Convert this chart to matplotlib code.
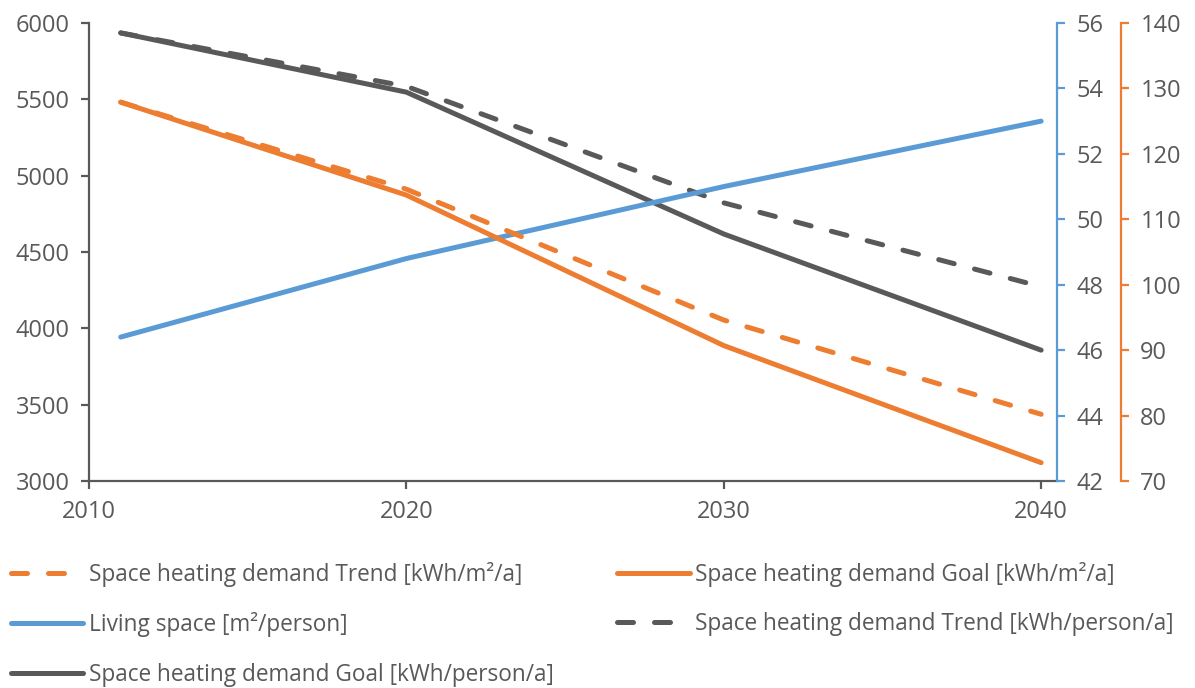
import matplotlib
matplotlib.use("Agg")
import matplotlib.pyplot as plt

plt.rcParams['font.family'] = ['Open Sans', 'DejaVu Sans']

years = [2011, 2020, 2030, 2040]
# kWh/person/a (left axis)
person_trend = [5935, 5585, 4822, 4273]
person_goal = [5935, 5547, 4618, 3857]
# m2/person (blue axis)
living_space = [46.4, 48.8, 51.0, 53.0]
# kWh/m2/a (orange axis)
m2_trend = [127.9, 114.6, 94.6, 80.2]
m2_goal = [127.9, 113.7, 90.7, 72.8]

grey = '#595959'
blue = '#5B9BD5'
orange = '#ED7D31'
fs = 17
lfs = 16.3
lw = 3.6
dash = (3.2, 4.2)

fig = plt.figure(figsize=(11.95, 6.88), dpi=100)
ax = fig.add_axes([89 / 1195, 1 - 481 / 688, (1057 - 89) / 1195, (481 - 23) / 688])
ax2 = ax.twinx()
ax3 = ax.twinx()

l_pt, = ax.plot(years, person_trend, color=grey, lw=lw, dashes=dash,
                dash_capstyle='round', solid_capstyle='round',
                label='Space heating demand Trend [kWh/person/a]')
l_pg, = ax.plot(years, person_goal, color=grey, lw=lw, solid_capstyle='round',
                label='Space heating demand Goal [kWh/person/a]')
l_ls, = ax2.plot(years, living_space, color=blue, lw=lw, solid_capstyle='round',
                 label='Living space [m²/person]')
l_mt, = ax3.plot(years, m2_trend, color=orange, lw=lw, dashes=dash,
                 dash_capstyle='round', solid_capstyle='round',
                 label='Space heating demand Trend [kWh/m²/a]')
l_mg, = ax3.plot(years, m2_goal, color=orange, lw=lw, solid_capstyle='round',
                 label='Space heating demand Goal [kWh/m²/a]')

ax.set_xlim(2010, 2040.5)
ax.set_xticks([2010, 2020, 2030, 2040])
ax.set_ylim(3000, 6000)
ax.set_yticks(range(3000, 6001, 500))
ax2.set_ylim(42, 56)
ax2.set_yticks(range(42, 57, 2))
ax3.set_ylim(70, 140)
ax3.set_yticks(range(70, 141, 10))

for a in (ax, ax2, ax3):
    for s in a.spines.values():
        s.set_visible(False)

ax.spines['left'].set_visible(True)
ax.spines['bottom'].set_visible(True)
ax.spines['left'].set_color(grey)
ax.spines['bottom'].set_color(grey)
ax.spines['left'].set_linewidth(1.6)
ax.spines['bottom'].set_linewidth(1.6)
ax.tick_params(axis='both', colors=grey, labelcolor=grey, labelsize=fs,
               length=6, width=1.6, pad=8)

ax2.spines['right'].set_visible(True)
ax2.spines['right'].set_color(blue)
ax2.spines['right'].set_linewidth(1.6)
ax2.tick_params(axis='y', colors=blue, labelcolor=grey, labelsize=fs,
                length=6, width=1.6, pad=8)

ax3.spines['right'].set_visible(True)
ax3.spines['right'].set_position(('outward', 46))
ax3.spines['right'].set_color(orange)
ax3.spines['right'].set_linewidth(1.6)
ax3.tick_params(axis='y', colors=orange, labelcolor=grey, labelsize=fs,
                length=6, width=1.6, pad=8)

handles = [l_mt, l_ls, l_pg, l_mg, l_pt]
fig.legend(handles, [h.get_label() for h in handles], ncol=2,
           loc='upper left', bbox_to_anchor=(11 / 1195, 1 - 562 / 688),
           frameon=False, fontsize=lfs, labelcolor=grey, borderpad=0,
           borderaxespad=0, handlelength=3.2, handletextpad=0.25,
           columnspacing=2.8, labelspacing=1.12)

fig.savefig('out.png', dpi=100)
